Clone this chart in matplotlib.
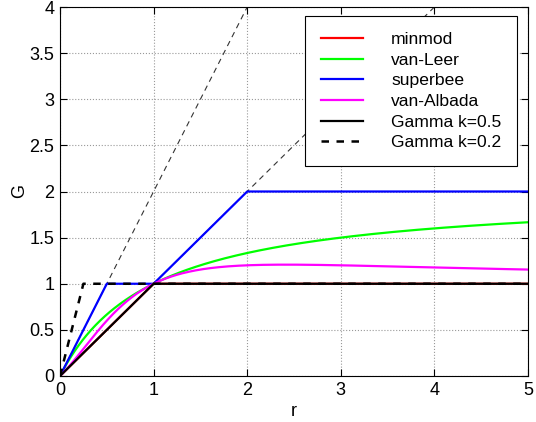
import numpy as np
import matplotlib
matplotlib.use("Agg")
import matplotlib.pyplot as plt

plt.rcParams["font.family"] = ["Liberation Sans", "DejaVu Sans"]

# limiter names / colours (legend order)
names = ["minmod", "van-Leer", "superbee", "van-Albada", "Gamma k=0.5", "Gamma k=0.2"]
colors = ["#ff0000", "#00ff00", "#0000ff", "#ff00ff", "black", "black"]
styles = ["-", "-", "-", "-", "-", "--"]
gamma_k = [0.5, 0.2]

# r samples
r = np.linspace(0, 5, 501)

# TVD region boundaries (thin dashed): G = 2r up to (2,4), G = r up to (4,4)
bound_r = [[0, 2], [0, 4]]
bound_g = [[0, 4], [0, 4]]


def minmod(r):
    return np.maximum(0, np.minimum(r, 1))


def vanleer(r):
    return (r + np.abs(r)) / (1 + np.abs(r))


def superbee(r):
    return np.maximum(0, np.maximum(np.minimum(2 * r, 1), np.minimum(r, 2)))


def vanalbada(r):
    return (r * r + r) / (r * r + 1)


def gamma(r, k):
    return np.maximum(0, np.minimum(r * (1 - k) / k, 1))


curves = [minmod(r), vanleer(r), superbee(r), vanalbada(r),
          gamma(r, gamma_k[0]), gamma(r, gamma_k[1])]

fig = plt.figure(figsize=(5.36, 4.22), dpi=100)
ax = fig.add_axes([60 / 536, 1 - 376 / 422, 468 / 536, 369 / 422])

for br, bg in zip(bound_r, bound_g):
    ax.plot(br, bg, "--", color="#333333", lw=0.8, dashes=(5, 4), label="_nolegend_")

for g, c, ls, n in zip(curves, colors, styles, names):
    if ls == "--":
        ax.plot(r, g, ls, color=c, lw=1.8, dashes=(3, 3), label=n)
    else:
        ax.plot(r, g, ls, color=c, lw=1.6, label=n)

ax.set_xlim(0, 5)
ax.set_ylim(0, 4)
ax.set_xticks(np.arange(0, 6, 1))
ax.set_yticks(np.arange(0, 4.5, 0.5))
ax.set_yticklabels(["0", "0.5", "1", "1.5", "2", "2.5", "3", "3.5", "4"])
ax.tick_params(direction="in", top=True, right=True, length=5, labelsize=13, pad=4)
ax.grid(True, linestyle=":", color="#999999", lw=0.8)
for s in ax.spines.values():
    s.set_linewidth(0.8)

ax.set_xlabel("r", fontsize=13, labelpad=3)
ax.set_ylabel("G", fontsize=13, labelpad=1)

leg = ax.legend(loc="upper right", bbox_to_anchor=((517 - 60) / 468, (376 - 16) / 369),
                borderaxespad=0, fontsize=12.6,
                frameon=True, fancybox=False, edgecolor="black", framealpha=1,
                handlelength=2.4, borderpad=0.9, labelspacing=0.31, handletextpad=1.6)
leg.get_frame().set_linewidth(0.8)

fig.savefig("out.png", dpi=100)
